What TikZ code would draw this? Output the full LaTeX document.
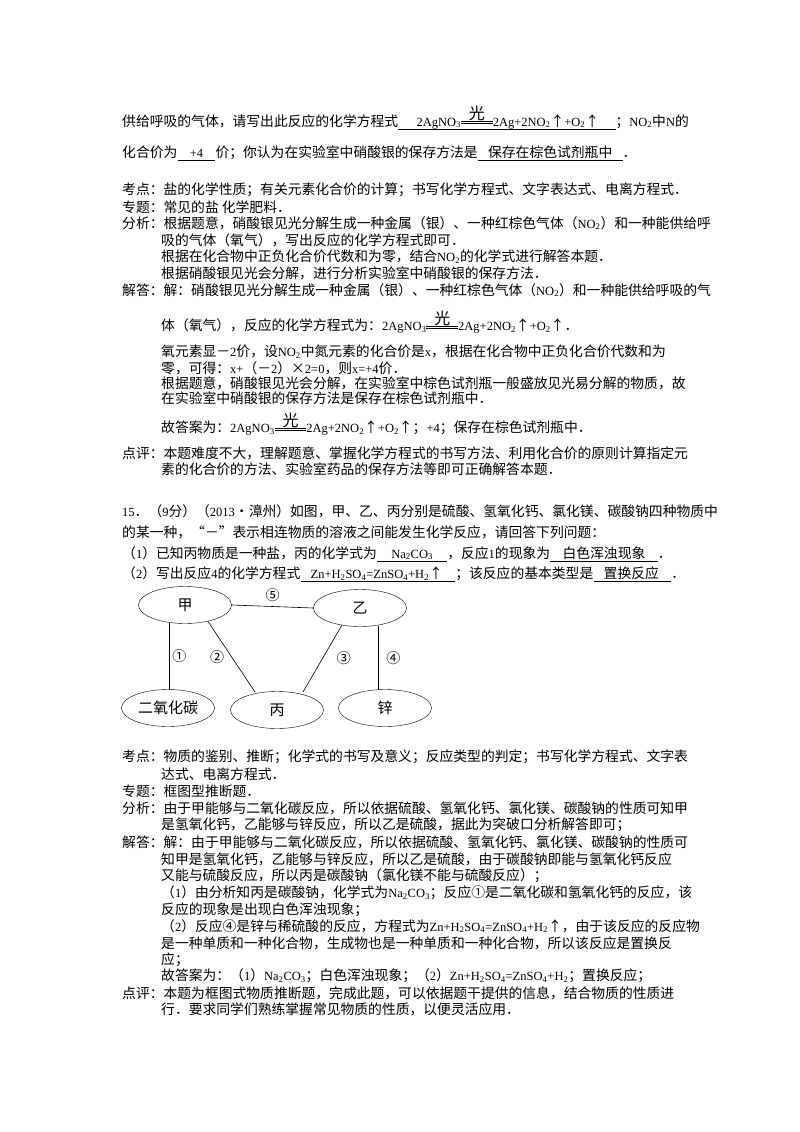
\documentclass[tikz,border=0pt]{standalone}
\usepackage{fontspec}
\usetikzlibrary{shapes.geometric}
\setmainfont{Noto Sans CJK SC}
\newfontfamily\lat{Liberation Serif}
\newcommand\F[1]{{\lat\fontsize{12.5}{13}\selectfont #1}}
\newcommand\sbx[1]{\textsubscript{#1}}
\newcommand\eqg{\raisebox{0.3ex}{\vbox{\hbox to 2.3em{\hss\fontsize{16}{16}\selectfont 光\hss}\kern0.5pt\hrule height 0.6pt\kern1.5pt\hrule height 0.6pt}}}
\newcommand\AgEq{\F{2AgNO\sbx{3}}\eqg\F{2Ag+2NO\sbx{2}}↑\F{+O\sbx{2}}↑}
\newcommand\ZnEq{\F{Zn+H\sbx{2}SO\sbx{4}=ZnSO\sbx{4}+H\sbx{2}}↑}
\begin{document}
\begin{tikzpicture}[x=1pt,y=-1pt,
  t/.style={anchor=west,inner sep=0pt,font=\fontsize{13.8}{14}\selectfont},
  nx/.style={t,anchor=base west},
  ul/.style={line width=0.6pt},
  el/.style={draw,ellipse,minimum width=93pt,minimum height=37pt,inner sep=0pt,font=\fontsize{15}{15}\selectfont},
  ln/.style={line width=0.6pt},
  lb/.style={inner sep=0pt,font=\fontsize{14}{14}\selectfont}]
\useasboundingbox[fill=white] (0,0) rectangle (800,1132);
% top line 1
\node[t] (a1) at (122,121) {供给呼吸的气体，请写出此反应的化学方程式};
\node[nx] (a2) at ([xshift=18pt]a1.base east) {\AgEq};
\node[nx] (a3) at ([xshift=16pt]a2.base east) {；\F{NO\sbx{2}}中\F{N}的};
\draw[ul] ([yshift=-3pt]a1.base east) -- ([yshift=-3pt,xshift=1pt]a3.base west);
% line 2
\node[t] (b1) at (122,152) {化合价为};
\node[nx] (b2) at ([xshift=12pt]b1.base east) {\F{+4}};
\node[nx] (b3) at ([xshift=12pt]b2.base east) {价；你认为在实验室中硝酸银的保存方法是};
\node[nx] (b4) at ([xshift=10pt]b3.base east) {保存在棕色试剂瓶中};
\node[nx] (b5) at ([xshift=10pt]b4.base east) {．};
\draw[ul] ([yshift=-3pt]b1.base east) -- ([yshift=-3pt]b3.base west);
\draw[ul] ([yshift=-3pt]b3.base east) -- ([yshift=-3pt]b5.base west);
% analysis 1
\node[t] (c1) at (122,190) {考点：盐的化学性质；有关元素化合价的计算；书写化学方程式、文字表达式、电离方程式．};
\node[t] (c2) at (122,207) {专题：常见的盐\ 化学肥料．};
\node[t] (c3) at (122,223) {分析：根据题意，硝酸银见光分解生成一种金属（银）、一种红棕色气体（\F{NO\sbx{2}}）和一种能供给呼};
\node[t] (c4) at (161,240) {吸的气体（氧气），写出反应的化学方程式即可．};
\node[t] (c5) at (161,257) {根据在化合物中正负化合价代数和为零，结合\F{NO\sbx{2}}的化学式进行解答本题．};
\node[t] (c6) at (161,273) {根据硝酸银见光会分解，进行分析实验室中硝酸银的保存方法．};
\node[t] (d1) at (122,290) {解答：解：硝酸银见光分解生成一种金属（银）、一种红棕色气体（\F{NO\sbx{2}}）和一种能供给呼吸的气};
\node[t] (d2) at (161,322) {体（氧气），反应的化学方程式为：\AgEq．};
\node[t] (d3) at (161,352) {氧元素显－\F{2}价，设\F{NO\sbx{2}}中氮元素的化合价是\F{x}，根据在化合物中正负化合价代数和为};
\node[t] (d4) at (161,368) {零，可得：\F{x+}（－\F{2}）×\F{2=0}，则\F{x=+4}价．};
\node[t] (d5) at (161,383) {根据题意，硝酸银见光会分解，在实验室中棕色试剂瓶一般盛放见光易分解的物质，故};
\node[t] (d6) at (161,398) {在实验室中硝酸银的保存方法是保存在棕色试剂瓶中．};
\node[t] (d7) at (161,424) {故答案为：\AgEq；\F{+4}；保存在棕色试剂瓶中．};
\node[t] (e1) at (122,453) {点评：本题难度不大，理解题意、掌握化学方程式的书写方法、利用化合价的原则计算指定元};
\node[t] (e2) at (161,469) {素的化合价的方法、实验室药品的保存方法等即可正确解答本题．};
% problem 15
\node[t] (f1) at (122,511) {\F{15}．（\F{9}分）（\F{2013}•漳州）如图，甲、乙、丙分别是硫酸、氢氧化钙、氯化镁、碳酸钠四种物质中};
\node[t] (f2) at (122,532) {的某一种，“－”表示相连物质的溶液之间能发生化学反应，请回答下列问题：};
\node[t] (g1) at (122,553) {（\F{1}）已知丙物质是一种盐，丙的化学式为};
\node[nx] (g2) at ([xshift=14pt]g1.base east) {\F{Na\sbx{2}CO\sbx{3}}};
\node[nx] (g3) at ([xshift=14pt]g2.base east) {，反应\F{1}的现象为};
\node[nx] (g4) at ([xshift=12pt]g3.base east) {白色浑浊现象};
\node[nx] (g5) at ([xshift=12pt]g4.base east) {．};
\draw[ul] ([yshift=-3pt]g1.base east) -- ([yshift=-3pt]g3.base west);
\draw[ul] ([yshift=-3pt]g3.base east) -- ([yshift=-3pt]g5.base west);
\node[t] (h1) at (122,573) {（\F{2}）写出反应\F{4}的化学方程式};
\node[nx] (h2) at ([xshift=10pt]h1.base east) {\ZnEq};
\node[nx] (h3) at ([xshift=12pt]h2.base east) {；该反应的基本类型是};
\node[nx] (h4) at ([xshift=10pt]h3.base east) {置换反应};
\node[nx] (h5) at ([xshift=12pt]h4.base east) {．};
\draw[ul] ([yshift=-3pt]h1.base east) -- ([yshift=-3pt]h3.base west);
\draw[ul] ([yshift=-3pt]h3.base east) -- ([yshift=-3pt]h5.base west);
% diagram
\node[el] (jia) at (185,605) {甲};
\node[el] (yi) at (360,608) {乙};
\node[el] (co2) at (168,708) {二氧化碳};
\node[el] (bing) at (277,710) {丙};
\node[el] (zn) at (385,708) {锌};
\draw[ln] (jia.east) -- node[lb,above=5pt] (l5) {⑤} (yi.west);
\draw[ln] (169,623.3) -- node[lb,right=3pt] (l1) {①} (169,689.8);
\draw[ln] (208,621.5) -- node[lb,left=7pt] (l2) {②} (255,692);
\draw[ln] (342,625) -- node[lb,right=14pt] (l3) {③} (303,692);
\draw[ln] (378,626) -- node[lb,right=8pt] (l4) {④} (378,690);
% analysis 2
\node[t] (k1) at (122,757) {考点：物质的鉴别、推断；化学式的书写及意义；反应类型的判定；书写化学方程式、文字表};
\node[t] (k2) at (161,774) {达式、电离方程式．};
\node[t] (k3) at (122,791) {专题：框图型推断题．};
\node[t] (k4) at (122,808) {分析：由于甲能够与二氧化碳反应，所以依据硫酸、氢氧化钙、氯化镁、碳酸钠的性质可知甲};
\node[t] (k5) at (161,825) {是氢氧化钙，乙能够与锌反应，所以乙是硫酸，据此为突破口分析解答即可；};
\node[t] (m1) at (122,842) {解答：解：由于甲能够与二氧化碳反应，所以依据硫酸、氢氧化钙、氯化镁、碳酸钠的性质可};
\node[t] (m2) at (161,859) {知甲是氢氧化钙，乙能够与锌反应，所以乙是硫酸，由于碳酸钠即能与氢氧化钙反应};
\node[t] (m3) at (161,876) {又能与硫酸反应，所以丙是碳酸钠（氯化镁不能与硫酸反应）；};
\node[t] (m4) at (161,893) {（\F{1}）由分析知丙是碳酸钠，化学式为\F{Na\sbx{2}CO\sbx{3}}；反应①是二氧化碳和氢氧化钙的反应，该};
\node[t] (m5) at (161,910) {反应的现象是出现白色浑浊现象；};
\node[t] (m6) at (161,926) {（\F{2}）反应④是锌与稀硫酸的反应，方程式为\ZnEq，由于该反应的反应物};
\node[t] (m7) at (161,943) {是一种单质和一种化合物，生成物也是一种单质和一种化合物，所以该反应是置换反};
\node[t] (m8) at (161,960) {应；};
\node[t] (m9) at (161,976) {故答案为：（\F{1}）\F{Na\sbx{2}CO\sbx{3}}；白色浑浊现象；（\F{2}）\F{Zn+H\sbx{2}SO\sbx{4}=ZnSO\sbx{4}+H\sbx{2}}；置换反应；};
\node[t] (n1) at (122,993) {点评：本题为框图式物质推断题，完成此题，可以依据题干提供的信息，结合物质的性质进};
\node[t] (n2) at (161,1009) {行．要求同学们熟练掌握常见物质的性质，以便灵活应用．};
\end{tikzpicture}
\end{document}
